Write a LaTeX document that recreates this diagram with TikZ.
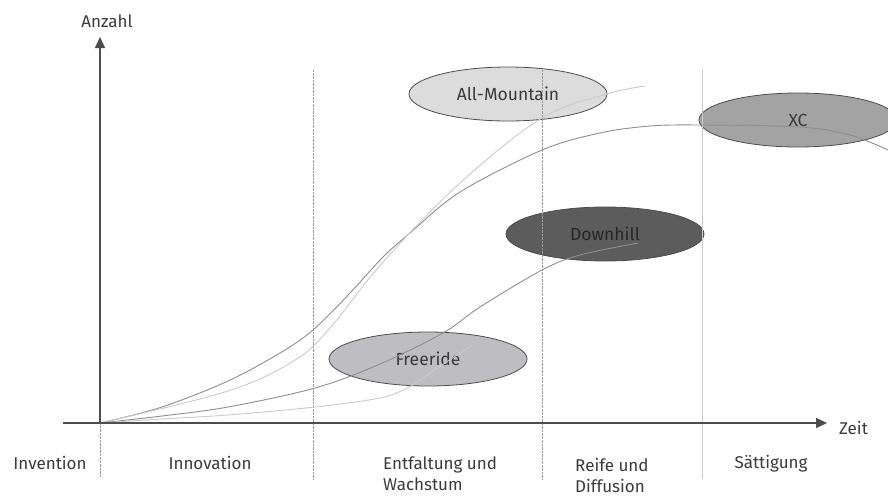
\documentclass[tikz,border=0pt]{standalone}
\usepackage{fontspec}
\setmainfont{Fira Sans}
\usetikzlibrary{shapes.geometric,arrows.meta}
\definecolor{axisgray}{HTML}{4D4D4D}
\definecolor{txtgray}{HTML}{3A3A3A}
\definecolor{curvedark}{HTML}{8E8E8E}
\definecolor{curvelight}{HTML}{CACACA}
\definecolor{dotgray}{HTML}{9A9A9A}
\definecolor{fillam}{HTML}{DCDCDC}
\definecolor{fillxc}{HTML}{A3A3A3}
\definecolor{filldh}{HTML}{5C5C5C}
\definecolor{fillfr}{HTML}{BEBEC2}
\tikzset{
  lbl/.style={text=txtgray, font=\fontsize{17}{21}\selectfont, inner sep=0pt},
  blob/.style={ellipse, draw=axisgray, line width=0.8pt, minimum width=198pt,
    minimum height=54pt, inner sep=0pt, text=txtgray, font=\fontsize{17.5}{21}\selectfont},
  axisline/.style={draw=axisgray, line width=1.1pt, -{Triangle[length=11pt,width=10pt]}},
  phase/.style={draw=dotgray, line width=0.7pt, dash pattern=on 0.7pt off 0.7pt},
  phasesolid/.style={draw=curvelight, line width=1pt},
  curveA/.style={draw=curvedark, line width=0.9pt},
  curveB/.style={draw=curvelight, line width=0.9pt}
}
\begin{document}
\begin{tikzpicture}[x=1pt,y=-1pt]
\useasboundingbox (0,0) rectangle (888,496);

% segment bubbles
\node[blob, fill=fillam] (am) at (508,94) {All-Mountain};
\node[blob, fill=fillxc] (xc) at (798,120) {XC};
\node[blob, fill=filldh, text=black!85] (dh) at (605,234) {Downhill};
\node[blob, fill=fillfr] (fr) at (428,359) {Freeride};

% phase separators
\coordinate (o) at (100,423);
\draw[phase] (o) -- (100,477);
\draw[phase] (313,70) -- (313,480);
\draw[phase] (542,70) -- (542,479);
\draw[phasesolid] (702,70) -- (702,479);

% diffusion curves
\draw[curveA] plot[smooth, tension=0.55] coordinates {(100,423) (162,407) (228,381) (280,353) (313,330) (350,293) (383,257) (410,233) (460,192) (542,150) (600,133) (650,126) (700,125) (800,127) (850,135) (888,150)};
\draw[curveB] plot[smooth, tension=0.6] coordinates {(100,423) (228,391) (295,360) (330,328) (383,262) (460,183) (542,118) (607,94) (645,86)};
\draw[curveA] plot[smooth, tension=0.55] coordinates {(100,423) (162,416) (228,407) (315,388) (380,364) (443,333) (480,307) (542,270) (580,255) (638,243)};
\draw[curveB] plot[smooth, tension=0.55] coordinates {(100,423) (162,419) (228,415) (315,407) (380,398) (407,388) (430,373) (472,345)};

% axes
\coordinate (xs) at (63,423);
\coordinate (xe) at (827,423);
\coordinate (ye) at (100,37);
\draw[axisline] (xs) -- (xe);
\draw[axisline] (o) -- (ye);
\node[lbl, anchor=base] (ylab) at (107,27) {Anzahl};
\node[lbl, anchor=base west] (xlab) at (839,434) {Zeit};

% phase labels (two-line labels anchored at the baseline of their last line)
\node[lbl, anchor=base] (p1) at (50,469) {Invention};
\node[lbl, anchor=base] (p2) at (210,469) {Innovation};
\node[lbl, anchor=base west, align=left] (p3) at (383,490) {Entfaltung und\\Wachstum};
\node[lbl, anchor=base west, align=left] (p4) at (575,492) {Reife und\\Diffusion};
\node[lbl, anchor=base] (p5) at (771,468) {Sättigung};
\end{tikzpicture}
\end{document}
